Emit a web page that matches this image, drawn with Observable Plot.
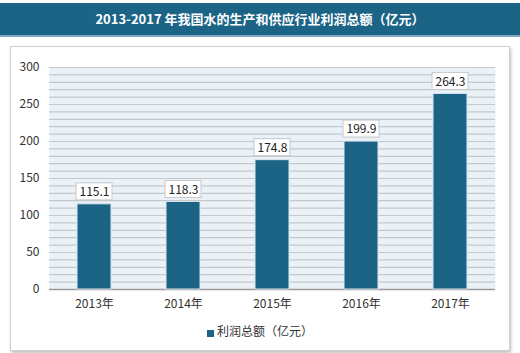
<!DOCTYPE html>
<html><head><meta charset="utf-8">
<script src="https://cdn.jsdelivr.net/npm/d3@7"></script>
<script src="https://cdn.jsdelivr.net/npm/@observablehq/plot@0.6"></script>
<style>
html,body{margin:0;padding:0;background:#fff;}
#wrap{position:relative;width:520px;height:353px;overflow:hidden;font-family:"Noto Sans CJK SC","Noto Sans",sans-serif;}
#title{position:absolute;left:0;top:3px;width:520px;height:32px;background:#1c6486;border-bottom:2px solid #7fa9c0;color:#fff;font-weight:bold;font-size:13px;line-height:32px;text-align:center;}
#panel{position:absolute;left:10px;top:46px;width:498px;height:303px;border:1px solid #d0d0d0;box-shadow:1px 2px 3px rgba(0,0,0,0.25);background:#fff;}
#chart{position:absolute;left:0;top:50px;}
#legend{position:absolute;left:0;width:520px;top:322px;text-align:center;font-size:12px;color:#333;}
#legend span.sw{display:inline-block;width:7px;height:7px;background:#1c6486;margin-right:3px;vertical-align:middle;position:relative;top:1px;}
</style></head>
<body><div id="wrap">
<div id="title">2013-2017 年我国水的生产和供应行业利润总额（亿元）</div>
<div id="panel"></div>
<div id="chart"></div>
<div id="legend"><span class="sw"></span>利润总额（亿元）</div>
</div>
<script>
const years = ["2013年","2014年","2015年","2016年","2017年"];
const profits = [115.1, 118.3, 174.8, 199.9, 264.3];
const yTicks = [0,50,100,150,200,250,300];
const gridLines = d3.range(0, 301, 10);

const data = years.map((y,i)=>({year:y, value:profits[i]}));
const barColor = "#1c6486";

const chart = Plot.plot({
  width: 520, height: 300,
  marginLeft: 49, marginRight: 25, marginTop: 17, marginBottom: 61,
  style: {background: "transparent", fontFamily: "'Noto Sans CJK SC','Noto Sans',sans-serif", fontSize: "12px", color: "#333"},
  x: {type: "band", domain: years, paddingInner: 0.62, paddingOuter: 0.31, align: 0.5, label: null},
  y: {domain: [0, 300], ticks: yTicks, label: null},
  marks: [
    Plot.frame({fill: "#eaf2f8", stroke: null}),
    Plot.ruleY(gridLines, {stroke: "#c4c8cc", strokeWidth: 1.2}),
    Plot.ruleY([0], {stroke: "#9a9a9a", strokeWidth: 1.5}),
    Plot.barY(data, {x: "year", y: "value", fill: barColor, stroke: "#dbe5ee", strokeWidth: 1,
      style: {filter: "drop-shadow(-3px 0px 2px rgba(0,0,0,0.35))"}}),
    Plot.rect(data, {x: "year", y1: "value", y2: "value", fill: "#fff", stroke: "#c8c8c8", strokeWidth: 1,
      insetTop: -21, insetBottom: 4, insetLeft: -1, insetRight: -1}),
    Plot.text(data, {x: "year", y: "value", text: d => d.value.toFixed(1), dy: -12, fill: "#222", fontSize: 12}),
    Plot.axisX({tickSize: 0, tickPadding: 10, fontSize: 12, fill: "#333", label: null}),
    Plot.axisY({ticks: yTicks, tickSize: 0, tickPadding: 10, fontSize: 12, fill: "#333", label: null})
  ]
});
document.getElementById("chart").appendChild(chart);
</script>
</body></html>
